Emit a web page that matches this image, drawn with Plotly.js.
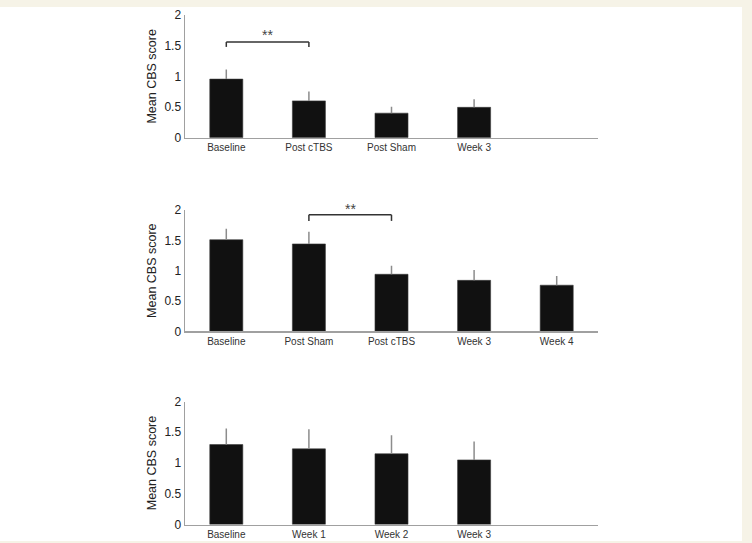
<!DOCTYPE html>
<html>
<head>
<meta charset="utf-8">
<script src="https://cdn.plot.ly/plotly-3.0.1.min.js"></script>
<style>
  html, body { margin: 0; padding: 0; background: #f6f3e7; width: 752px; height: 543px; overflow: hidden; }
  #chart { position: absolute; left: 0; top: 7px; width: 742px; height: 534px; background: #ffffff; }
</style>
</head>
<body>
<div id="chart"></div>
<script>
// Panel 1
var cats1 = ["Baseline", "Post cTBS", "Post Sham", "Week 3"];
var mean1 = [0.955, 0.60, 0.40, 0.495];
var err1  = [0.155, 0.155, 0.105, 0.13];
// Panel 2
var cats2 = ["Baseline", "Post Sham", "Post cTBS", "Week 3", "Week 4"];
var mean2 = [1.51, 1.44, 0.94, 0.84, 0.76];
var err2  = [0.18, 0.20, 0.14, 0.17, 0.15];
// Panel 3
var cats3 = ["Baseline", "Week 1", "Week 2", "Week 3"];
var mean3 = [1.30, 1.23, 1.15, 1.05];
var err3  = [0.26, 0.32, 0.30, 0.30];

var yTicks = [0, 0.5, 1, 1.5, 2];
var yTickText = ["0", "0.5", "1", "1.5", "2"];
var yTitle = "Mean CBS score";
var sigLabel = "**";

var FONT = "Liberation Sans, Arial, sans-serif";

function barTrace(cats, means, errs, xa, ya) {
  return {
    type: "bar",
    x: cats,
    y: means,
    xaxis: xa,
    yaxis: ya,
    width: 0.4,
    marker: { color: "#111111", line: { color: "#3a3a3a", width: 0.6 } },
    error_y: {
      type: "data",
      symmetric: false,
      array: errs,
      arrayminus: errs.map(function () { return 0; }),
      color: "#8c8c8c",
      thickness: 1.5,
      width: 0
    },
    hoverinfo: "x+y",
    showlegend: false
  };
}

var data = [
  barTrace(cats1, mean1, err1, "x", "y"),
  barTrace(cats2, mean2, err2, "x2", "y2"),
  barTrace(cats3, mean3, err3, "x3", "y3")
];

var xDom = [185 / 742, 598 / 742];

function xAxis(cats, anchor) {
  return {
    domain: xDom,
    anchor: anchor,
    type: "category",
    categoryorder: "array",
    categoryarray: cats,
    range: [-0.5, 4.5],
    showline: true,
    linecolor: "#a0a0a0",
    linewidth: 1.5,
    ticks: "",
    showgrid: false,
    zeroline: false,
    tickfont: { family: FONT, size: 10, color: "#333" },
    fixedrange: true
  };
}

function yAxis(dom, anchor) {
  return {
    domain: dom,
    anchor: anchor,
    range: [0, 2],
    tickvals: yTicks,
    ticktext: yTickText,
    showline: true,
    linecolor: "#a0a0a0",
    linewidth: 1.5,
    ticks: "",
    showgrid: false,
    zeroline: false,
    tickfont: { family: FONT, size: 12, color: "#222" },
    title: { text: yTitle, font: { family: FONT, size: 12.5, color: "#222" }, standoff: 5 },
    fixedrange: true
  };
}

// Bracket levels in data units (axis runs 0..2)
var br1 = { a: cats1[0], b: cats1[1], top: 1.56, leg: 1.48, star: 1.83 };
var br2 = { a: cats2[1], b: cats2[2], top: 1.92, leg: 1.82, star: 2.18 };

function bracketShapes(xa, ydom, br) {
  var s = { xref: xa, yref: ydom, line: { color: "#333", width: 1.5 }, type: "line" };
  return [
    Object.assign({}, s, { x0: br.a, x1: br.b, y0: br.top / 2, y1: br.top / 2 }),
    Object.assign({}, s, { x0: br.a, x1: br.a, y0: br.leg / 2, y1: br.top / 2 }),
    Object.assign({}, s, { x0: br.b, x1: br.b, y0: br.leg / 2, y1: br.top / 2 })
  ];
}

function midIndex(cats, a, b) { return (cats.indexOf(a) + cats.indexOf(b)) / 2; }

var H = 534;
var layout = {
  width: 742,
  height: 534,
  margin: { l: 0, r: 0, t: 0, b: 0 },
  paper_bgcolor: "#ffffff",
  plot_bgcolor: "#ffffff",
  showlegend: false,
  xaxis: xAxis(cats1, "y"),
  yaxis: yAxis([(H - 130.7) / H, (H - 8) / H], "x"),
  xaxis2: xAxis(cats2, "y2"),
  yaxis2: yAxis([(H - 324.3) / H, (H - 203) / H], "x2"),
  xaxis3: xAxis(cats3, "y3"),
  yaxis3: yAxis([(H - 517.5) / H, (H - 394.5) / H], "x3"),
  shapes: [].concat(
    bracketShapes("x", "y domain", br1),
    bracketShapes("x2", "y2 domain", br2)
  ),
  annotations: [
    { xref: "x", yref: "y domain", x: midIndex(cats1, br1.a, br1.b), y: br1.star / 2,
      text: sigLabel, showarrow: false, font: { family: FONT, size: 14, color: "#444" } },
    { xref: "x2", yref: "y2 domain", x: midIndex(cats2, br2.a, br2.b), y: br2.star / 2,
      text: sigLabel, showarrow: false, font: { family: FONT, size: 14, color: "#444" } }
  ]
};

Plotly.newPlot("chart", data, layout, { displayModeBar: false, staticPlot: true });
</script>
</body>
</html>
